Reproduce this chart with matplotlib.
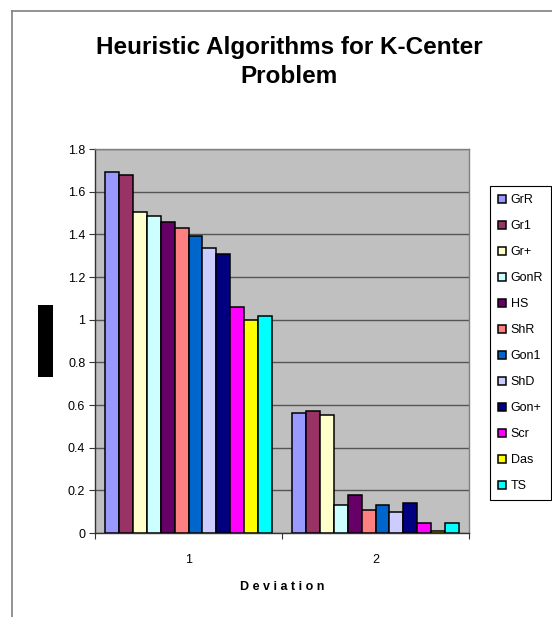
import matplotlib.pyplot as plt
import numpy as np
from matplotlib.patches import Rectangle
from matplotlib.lines import Line2D

plt.rcParams["font.family"] = ["Liberation Sans", "DejaVu Sans"]

categories = ["1", "2"]
algorithms = ["GrR", "Gr1", "Gr+", "GonR", "HS", "ShR", "Gon1", "ShD", "Gon+", "Scr", "Das", "TS"]
colors = ["#9999FF", "#993366", "#FFFFCC", "#CCFFFF", "#660066", "#FF8080",
          "#0066CC", "#CCCCFF", "#000080", "#FF00FF", "#FFFF00", "#00FFFF"]
dev1 = [1.69, 1.677, 1.507, 1.488, 1.46, 1.432, 1.393, 1.336, 1.31, 1.058, 1.0, 1.019]
dev2 = [0.561, 0.572, 0.553, 0.132, 0.176, 0.109, 0.132, 0.1, 0.14, 0.048, 0.009, 0.048]
y_ticks = [0, 0.2, 0.4, 0.6, 0.8, 1, 1.2, 1.4, 1.6, 1.8]

W, H = 552, 617
fig = plt.figure(figsize=(W / 100, H / 100), dpi=100)
ax = fig.add_axes([95 / W, 1 - 533 / H, 374 / W, 384 / H])
ax.set_facecolor("#C0C0C0")

values = np.array([dev1, dev2])
n = len(algorithms)
width = 0.889 / n
x = np.arange(1, len(categories) + 1)
bars = []
for i, (name, col) in enumerate(zip(algorithms, colors)):
    b = ax.bar(x + (i - (n - 1) / 2) * width, values[:, i], width,
               color=col, edgecolor="black", linewidth=1.1, label=name, zorder=3)
    bars.append(b)

ax.set_xlim(0.5, 2.5)
ax.set_ylim(0, 1.8)
ax.set_yticks(y_ticks)
ax.set_yticklabels([f"{t:g}" for t in y_ticks], fontsize=9)
ax.yaxis.grid(True, color="#555555", linewidth=1.0, zorder=0)
ax.set_axisbelow(True)
ax.tick_params(axis="y", direction="out", length=4, width=0.8, color="#333333", pad=3)

# category labels sit between the boundary ticks
ax.set_xticks([0.5, 1.5, 2.5])
ax.set_xticklabels([])
ax.set_xticks(x, minor=True)
ax.set_xticklabels(categories, minor=True, fontsize=9)
ax.tick_params(axis="x", which="major", direction="out", length=4, width=0.8, color="#333333")
ax.tick_params(axis="x", which="minor", length=0, pad=15)

for s in ["left", "bottom"]:
    ax.spines[s].set_color("#333333")
    ax.spines[s].set_linewidth(1.0)
for s in ["top", "right"]:
    ax.spines[s].set_color("#808080")
    ax.spines[s].set_linewidth(1.0)

fig.text(289 / W, 1 - 62 / H, "Heuristic Algorithms for K-Center\nProblem",
         ha="center", va="center", fontsize=17.5, fontweight="bold", linespacing=1.3)
fig.text(282 / W, 1 - 587 / H, "D e v i a t i o n", ha="center", va="center",
         fontsize=9, fontweight="bold")

# masked y-axis label
fig.patches.append(Rectangle((38 / W, 1 - 377 / H), 15 / W, 72 / H,
                             transform=fig.transFigure, facecolor="black", edgecolor="none"))

# chart-area border
fig.add_artist(Line2D([12 / W, 12 / W], [0, 1 - 11 / H], transform=fig.transFigure,
                      color="#808080", linewidth=1.2))
fig.add_artist(Line2D([12 / W, 1], [1 - 11 / H, 1 - 11 / H], transform=fig.transFigure,
                      color="#808080", linewidth=1.2))

leg = fig.legend(handles=[b[0] for b in bars], labels=algorithms, loc="upper left",
                 bbox_to_anchor=(490 / W, 1 - 500 / H, 61 / W, 314 / H), mode="expand",
                 borderaxespad=0, fontsize=9, labelspacing=1.12, handlelength=0.65,
                 handleheight=0.65, handletextpad=0.35, borderpad=0.65,
                 fancybox=False, framealpha=1)
leg.get_frame().set_edgecolor("black")
leg.get_frame().set_linewidth(0.8)

fig.savefig("out.png", dpi=100)
